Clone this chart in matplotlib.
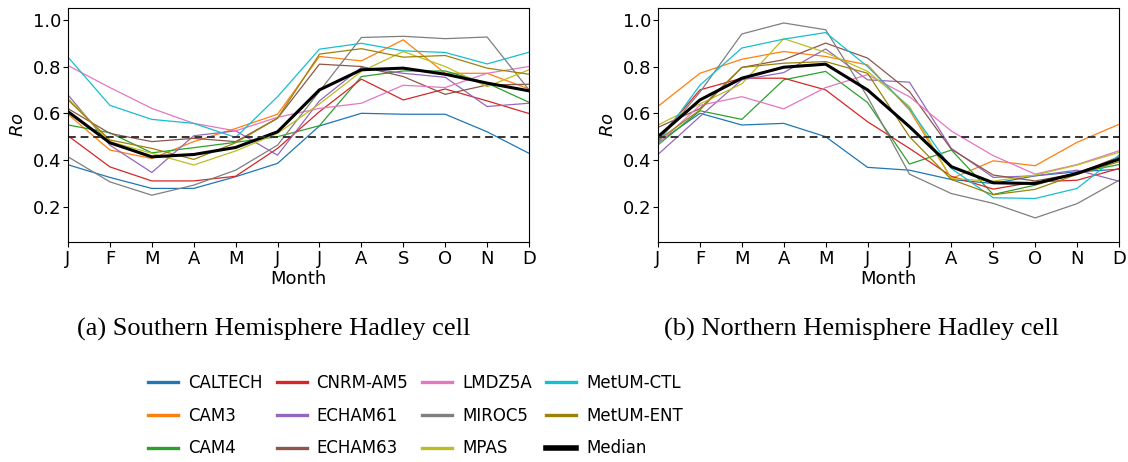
import numpy as np
import matplotlib
matplotlib.use("Agg")
import matplotlib.pyplot as plt
from matplotlib.lines import Line2D

# monthly Ro for each model
months = ["J", "F", "M", "A", "M", "J", "J", "A", "S", "O", "N", "D"]
models = ["CALTECH", "CAM3", "CAM4", "CNRM-AM5", "ECHAM61", "ECHAM63",
          "LMDZ5A", "MIROC5", "MPAS", "MetUM-CTL", "MetUM-ENT"]
colors = ["#1f77b4", "#ff7f0e", "#2ca02c", "#d62728", "#9467bd", "#8c564b",
          "#e377c2", "#7f7f7f", "#bcbd22", "#17becf", "#9c8209"]

sh_caltech = [0.38, 0.326, 0.279, 0.279, 0.329, 0.386, 0.546, 0.60, 0.596, 0.596, 0.521, 0.429]
sh_cam3 = [0.596, 0.443, 0.407, 0.479, 0.535, 0.596, 0.843, 0.824, 0.914, 0.771, 0.771, 0.704]
sh_cam4 = [0.55, 0.517, 0.431, 0.453, 0.476, 0.50, 0.547, 0.757, 0.781, 0.781, 0.729, 0.647]
sh_cnrm = [0.504, 0.371, 0.311, 0.311, 0.331, 0.45, 0.607, 0.746, 0.657, 0.704, 0.653, 0.599]
sh_echam61 = [0.679, 0.464, 0.347, 0.504, 0.525, 0.421, 0.653, 0.796, 0.771, 0.754, 0.629, 0.643]
sh_echam63 = [0.62, 0.514, 0.479, 0.493, 0.479, 0.579, 0.81, 0.80, 0.757, 0.681, 0.721, 0.724]
sh_lmdz = [0.804, 0.71, 0.621, 0.557, 0.525, 0.583, 0.621, 0.643, 0.72, 0.71, 0.771, 0.80]
sh_miroc = [0.414, 0.307, 0.25, 0.293, 0.357, 0.464, 0.694, 0.924, 0.929, 0.919, 0.926, 0.70]
sh_mpas = [0.664, 0.479, 0.429, 0.379, 0.439, 0.514, 0.64, 0.779, 0.864, 0.80, 0.714, 0.786]
sh_ctl = [0.84, 0.634, 0.574, 0.557, 0.497, 0.671, 0.874, 0.899, 0.867, 0.86, 0.811, 0.861]
sh_ent = [0.657, 0.486, 0.45, 0.403, 0.474, 0.579, 0.853, 0.876, 0.84, 0.847, 0.793, 0.767]
sh_median = [0.607, 0.474, 0.414, 0.424, 0.454, 0.521, 0.70, 0.786, 0.793, 0.767, 0.729, 0.696]

nh_caltech = [0.475, 0.60, 0.55, 0.557, 0.50, 0.369, 0.357, 0.317, 0.30, 0.333, 0.35, 0.361]
nh_cam3 = [0.63, 0.771, 0.831, 0.864, 0.843, 0.807, 0.614, 0.321, 0.397, 0.376, 0.476, 0.553]
nh_cam4 = [0.465, 0.611, 0.574, 0.743, 0.779, 0.646, 0.383, 0.443, 0.253, 0.293, 0.345, 0.381]
nh_cnrm = [0.49, 0.70, 0.75, 0.75, 0.70, 0.564, 0.45, 0.331, 0.276, 0.307, 0.314, 0.364]
nh_echam61 = [0.424, 0.586, 0.743, 0.774, 0.875, 0.743, 0.733, 0.45, 0.326, 0.333, 0.357, 0.31]
nh_echam63 = [0.54, 0.62, 0.796, 0.829, 0.90, 0.836, 0.693, 0.446, 0.336, 0.311, 0.343, 0.414]
nh_lmdz = [0.47, 0.634, 0.671, 0.619, 0.71, 0.765, 0.671, 0.524, 0.419, 0.34, 0.381, 0.44]
nh_miroc = [0.48, 0.69, 0.939, 0.986, 0.957, 0.67, 0.34, 0.257, 0.215, 0.153, 0.214, 0.314]
nh_mpas = [0.55, 0.64, 0.726, 0.919, 0.86, 0.779, 0.629, 0.321, 0.31, 0.336, 0.379, 0.433]
nh_ctl = [0.475, 0.72, 0.879, 0.917, 0.945, 0.80, 0.621, 0.364, 0.239, 0.236, 0.279, 0.421]
nh_ent = [0.485, 0.614, 0.796, 0.814, 0.821, 0.771, 0.50, 0.317, 0.252, 0.275, 0.339, 0.393]
nh_median = [0.50, 0.657, 0.75, 0.797, 0.81, 0.70, 0.543, 0.372, 0.303, 0.30, 0.343, 0.404]

sh_series = [sh_caltech, sh_cam3, sh_cam4, sh_cnrm, sh_echam61, sh_echam63,
             sh_lmdz, sh_miroc, sh_mpas, sh_ctl, sh_ent]
nh_series = [nh_caltech, nh_cam3, nh_cam4, nh_cnrm, nh_echam61, nh_echam63,
             nh_lmdz, nh_miroc, nh_mpas, nh_ctl, nh_ent]

W, H = 1128, 462


def draw_panel(ax, series, median):
    x = np.arange(len(months))
    for vals, c in zip(series, colors):
        ax.plot(x, vals, color=c, lw=0.9)
    ax.plot(x, median, color="black", lw=2.2)
    ax.axhline(0.5, color="0.2", ls="--", lw=1.4, dashes=(4, 2.5))
    ax.set_xlim(0, 11)
    ax.set_ylim(0.05, 1.05)
    ax.set_xticks(x)
    ax.set_xticklabels(months)
    ax.set_yticks([0.2, 0.4, 0.6, 0.8, 1.0])
    ax.tick_params(labelsize=13, length=3.5)
    ax.tick_params(axis="y", pad=1.5)
    ax.tick_params(axis="x", pad=2.5)
    ax.set_xlabel("Month", fontsize=13, labelpad=1)
    ax.set_ylabel("$Ro$", fontsize=13, labelpad=4)


fig = plt.figure(figsize=(W / 100, H / 100), dpi=100)
ax_sh = fig.add_axes([68 / W, 1 - 242 / H, 461 / W, 234 / H])
ax_nh = fig.add_axes([658 / W, 1 - 242 / H, 461 / W, 234 / H])
draw_panel(ax_sh, sh_series, sh_median)
draw_panel(ax_nh, nh_series, nh_median)

fig.text(274 / W, 1 - 329 / H, "(a) Southern Hemisphere Hadley cell",
         ha="center", va="center", family="Liberation Serif", fontsize=19)
fig.text(862 / W, 1 - 329 / H, "(b) Northern Hemisphere Hadley cell",
         ha="center", va="center", family="Liberation Serif", fontsize=19)

handles = [Line2D([], [], color=c, lw=2.4) for c in colors]
handles.append(Line2D([], [], color="black", lw=4))
labels = models + ["Median"]
# legend fills column-wise, 3 rows x 4 cols
fig.legend(handles, labels, ncol=4, loc="upper left",
           bbox_to_anchor=(148 / W, 1 - 374 / H), frameon=False,
           fontsize=12, handlelength=1.8, handletextpad=0.6,
           columnspacing=0.84, labelspacing=0.88, borderpad=0, borderaxespad=0)

fig.savefig("out.png", dpi=100)
